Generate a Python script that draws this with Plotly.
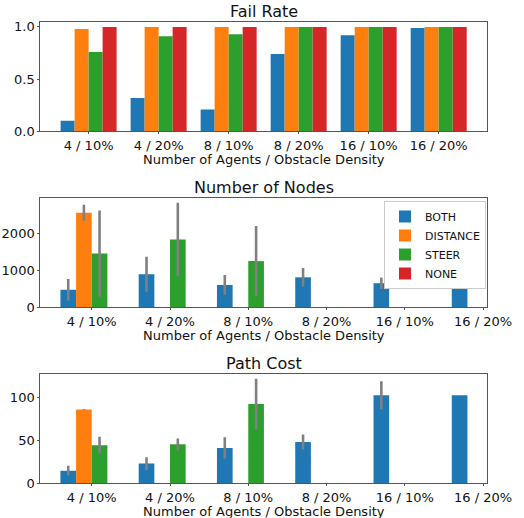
import plotly.graph_objects as go
from plotly.subplots import make_subplots

categories = ["4 / 10%", "4 / 20%", "8 / 10%", "8 / 20%", "16 / 10%", "16 / 20%"]
series = ["BOTH", "DISTANCE", "STEER", "NONE"]
colors = ["#1f77b4", "#ff7f0e", "#2ca02c", "#d62728"]

# Fail Rate
fail_both = [0.10, 0.32, 0.21, 0.74, 0.92, 0.99]
fail_distance = [0.98, 1.0, 1.0, 1.0, 1.0, 1.0]
fail_steer = [0.76, 0.91, 0.93, 1.0, 1.0, 1.0]
fail_none = [1.0, 1.0, 1.0, 1.0, 1.0, 1.0]

# Number of Nodes (mean, error)
nodes_both = [465, 890, 600, 805, 645, 530]
nodes_both_err = [293, 473, 266, 252, 153, None]
nodes_distance = [2560, None, None, None, None, None]
nodes_distance_err = [217, None, None, None, None, None]
nodes_steer = [1450, 1830, 1245, None, None, None]
nodes_steer_err = [1167, 995, 950, None, None, None]
nodes_none = [None, None, None, None, None, None]
nodes_none_err = [None, None, None, None, None, None]

# Path Cost (mean, error)
cost_both = [14.7, 22.9, 41.1, 48.1, 102.3, 102.3]
cost_both_err = [5.6, 7.4, 12.4, 8.7, 16.3, None]
cost_distance = [85.9, None, None, None, None, None]
cost_distance_err = [0.5, None, None, None, None, None]
cost_steer = [44.2, 45.3, 92.2, None, None, None]
cost_steer_err = [10.0, 6.8, 29.3, None, None, None]
cost_none = [None, None, None, None, None, None]
cost_none_err = [None, None, None, None, None, None]

W, H = 524, 518
FONT = "DejaVu Sans"
XTITLE = "Number of Agents / Obstacle Density"

fig = make_subplots(rows=3, cols=1)

fail_vals = [fail_both, fail_distance, fail_steer, fail_none]
node_vals = [nodes_both, nodes_distance, nodes_steer, nodes_none]
node_errs = [nodes_both_err, nodes_distance_err, nodes_steer_err, nodes_none_err]
cost_vals = [cost_both, cost_distance, cost_steer, cost_none]
cost_errs = [cost_both_err, cost_distance_err, cost_steer_err, cost_none_err]

for name, col, v in zip(series, colors, fail_vals):
    fig.add_trace(go.Bar(x=categories, y=v, name=name, marker_color=col,
                         marker_line_width=0, showlegend=False,
                         legendgroup=name), row=1, col=1)

for name, col, v, e in zip(series, colors, node_vals, node_errs):
    fig.add_trace(go.Bar(x=categories, y=v, name=name, marker_color=col,
                         marker_line_width=0, showlegend=True, legendgroup=name,
                         error_y=dict(type="data", array=e, visible=True,
                                      color="#808080", thickness=2.6, width=0)),
                  row=2, col=1)

for name, col, v, e in zip(series, colors, cost_vals, cost_errs):
    fig.add_trace(go.Bar(x=categories, y=v, name=name, marker_color=col,
                         marker_line_width=0, showlegend=False, legendgroup=name,
                         error_y=dict(type="data", array=e, visible=True,
                                      color="#808080", thickness=2.6, width=0)),
                  row=3, col=1)

def px_x(px):
    return px / W

def px_y(px):
    return 1 - px / H

xdom = [px_x(40.3), px_x(487.0)]
panels = [
    (21.7, 131.3, [-0.69, 5.69], [0, 1.05], dict(tickvals=[0, 0.5, 1.0], ticktext=["0.0", "0.5", "1.0"]), "Fail Rate"),
    (197.7, 307.0, [-0.657, 5.05], [0, 2965], dict(tickvals=[0, 1000, 2000]), "Number of Nodes"),
    (373.5, 483.3, [-0.657, 5.05], [0, 127.6], dict(tickvals=[0, 50, 100]), "Path Cost"),
]

axis_common = dict(showline=True, linecolor="#555555", linewidth=1, mirror=True,
                   ticks="outside", ticklen=2, tickwidth=1, tickcolor="#555555",
                   showgrid=False, zeroline=False, automargin=False,
                   tickfont=dict(family=FONT, size=13, color="#111111"))

annotations = []
xmid = (xdom[0] + xdom[1]) / 2
for i, (top, bot, xr, yr, yt, title) in enumerate(panels, start=1):
    fig.update_xaxes(row=i, col=1, domain=xdom, range=xr, type="category",
                     **axis_common)
    fig.update_yaxes(row=i, col=1, domain=[px_y(bot), px_y(top)], range=yr,
                     **yt, **axis_common)
    annotations.append(dict(text=title, x=xmid, y=px_y(top - 10.5),
                            xref="paper", yref="paper", xanchor="center",
                            yanchor="middle", showarrow=False,
                            font=dict(family=FONT, size=16, color="#111111")))
    annotations.append(dict(text=XTITLE, x=xmid, y=px_y(bot + 28.5),
                            xref="paper", yref="paper", xanchor="center",
                            yanchor="middle", showarrow=False,
                            font=dict(family=FONT, size=13, color="#111111")))

fig.update_layout(
    width=W, height=H, autosize=False,
    margin=dict(l=0, r=0, t=0, b=0, pad=0, autoexpand=False),
    paper_bgcolor="white", plot_bgcolor="white",
    barmode="group", bargap=0.2, bargroupgap=0,
    annotations=annotations,
    legend=dict(x=px_x(384), xanchor="left", y=px_y(201), yanchor="top",
                bgcolor="white", bordercolor="#cccccc", borderwidth=1,
                font=dict(family=FONT, size=11, color="#111111"),
                tracegroupgap=0, itemwidth=30),
    font=dict(family=FONT),
)

fig.write_html("out.html", config={"displayModeBar": False, "responsive": False},
               post_script="document.body.style.margin='0';document.body.style.overflow='hidden';")
